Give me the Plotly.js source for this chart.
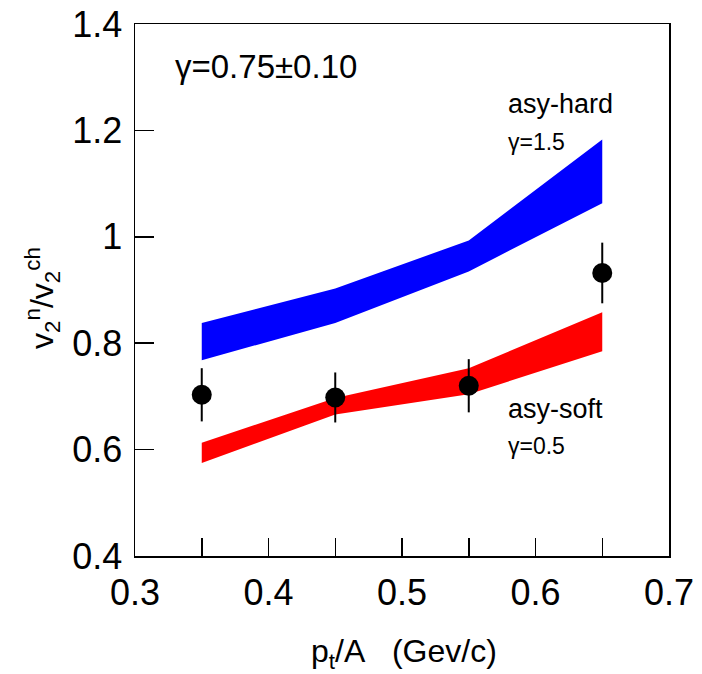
<!DOCTYPE html>
<html>
<head>
<meta charset="utf-8">
<script src="https://cdn.plot.ly/plotly-3.0.1.min.js"></script>
<style>html,body{margin:0;padding:0;background:#fff;}#chart{width:702px;height:674px;}</style>
</head>
<body>
<div id="chart"></div>
<script>
// Data
var ptA = [0.35, 0.45, 0.55, 0.65];
var dataV2 = [0.703, 0.698, 0.720, 0.932];
var dataErr = [0.050, 0.047, 0.050, 0.057];
var hardUpper = [0.838, 0.903, 0.993, 1.183];
var hardLower = [0.768, 0.838, 0.935, 1.063];
var softUpper = [0.613, 0.697, 0.753, 0.858];
var softLower = [0.575, 0.666, 0.704, 0.785];
var xTickVals = [0.3, 0.35, 0.4, 0.45, 0.5, 0.55, 0.6, 0.65, 0.7];
var xTickText = ["0.3", "", "0.4", "", "0.5", "", "0.6", "", "0.7"];
var yTickVals = [0.4, 0.6, 0.8, 1.0, 1.2, 1.4];
var yTickText = ["0.4", "0.6", "0.8", "1", "1.2", "1.4"];

function band(upper, lower) {
  return {
    x: ptA.concat(ptA.slice().reverse()),
    y: upper.concat(lower.slice().reverse())
  };
}
var hb = band(hardUpper, hardLower);
var sb = band(softUpper, softLower);

var traces = [
  {x: hb.x, y: hb.y, type: 'scatter', mode: 'lines', fill: 'toself',
   fillcolor: '#0000ff', line: {width: 0, color: '#0000ff'}, hoverinfo: 'skip'},
  {x: sb.x, y: sb.y, type: 'scatter', mode: 'lines', fill: 'toself',
   fillcolor: '#ff0000', line: {width: 0, color: '#ff0000'}, hoverinfo: 'skip'},
  {x: ptA, y: dataV2, type: 'scatter', mode: 'markers',
   marker: {color: '#000', size: 20},
   error_y: {type: 'data', array: dataErr, visible: true, color: '#000', thickness: 2, width: 0}}
];

var L = 135, R = 669, T = 24, B = 556;
function px(x) { return (x - L) / (R - L); }
function py(y) { return (B - y) / (B - T); }
var F = 'Liberation Sans, Arial, Helvetica, sans-serif';

var layout = {
  width: 702, height: 674,
  margin: {l: L, r: 702 - R, t: T, b: 674 - B},
  paper_bgcolor: '#fff', plot_bgcolor: '#fff',
  showlegend: false,
  font: {family: F, color: '#000'},
  xaxis: {
    range: [0.3, 0.7], tickvals: xTickVals, ticktext: xTickText,
    ticks: 'inside', ticklen: 18, tickwidth: 1.5, tickcolor: '#000',
    showline: true, mirror: true, linecolor: '#000', linewidth: 1.5,
    showgrid: false, zeroline: false,
    tickfont: {family: F, size: 36, color: '#000'},
    ticklabelstandoff: 4
  },
  yaxis: {
    range: [0.4, 1.4], tickvals: yTickVals, ticktext: yTickText,
    ticks: 'inside', ticklen: 19, tickwidth: 1.5, tickcolor: '#000',
    showline: true, mirror: true, linecolor: '#000', linewidth: 1.5,
    showgrid: false, zeroline: false,
    tickfont: {family: F, size: 36, color: '#000'},
    ticklabelstandoff: 4
  },
  annotations: [
    {text: '\u03b3=0.75\u00b10.10', xref: 'paper', yref: 'paper', x: px(173), y: py(66),
     xanchor: 'left', yanchor: 'middle', showarrow: false, font: {family: F, size: 33, color: '#000'}},
    {text: 'asy-hard', xref: 'paper', yref: 'paper', x: px(506), y: py(104),
     xanchor: 'left', yanchor: 'middle', showarrow: false, font: {family: F, size: 27, color: '#000'}},
    {text: '\u03b3=1.5', xref: 'paper', yref: 'paper', x: px(506), y: py(142),
     xanchor: 'left', yanchor: 'middle', showarrow: false, font: {family: F, size: 23, color: '#000'}},
    {text: 'asy-soft', xref: 'paper', yref: 'paper', x: px(506), y: py(409),
     xanchor: 'left', yanchor: 'middle', showarrow: false, font: {family: F, size: 27, color: '#000'}},
    {text: '\u03b3=0.5', xref: 'paper', yref: 'paper', x: px(506), y: py(446),
     xanchor: 'left', yanchor: 'middle', showarrow: false, font: {family: F, size: 23, color: '#000'}},
    {text: 'p<sub>t</sub>/A\u00a0\u00a0\u00a0(Gev/c)', xref: 'paper', yref: 'paper', x: px(404), y: py(653),
     xanchor: 'center', yanchor: 'middle', showarrow: false, font: {family: F, size: 32, color: '#000'}},
    {text: 'v<sub>2</sub><sup>n</sup>/v<sub>2</sub><sup>ch</sup>', xref: 'paper', yref: 'paper', x: px(42), y: py(298),
     xanchor: 'center', yanchor: 'middle', textangle: -90, showarrow: false, font: {family: F, size: 32, color: '#000'}}
  ]
};

Plotly.newPlot('chart', traces, layout, {displayModeBar: false, staticPlot: true});
</script>
</body>
</html>
